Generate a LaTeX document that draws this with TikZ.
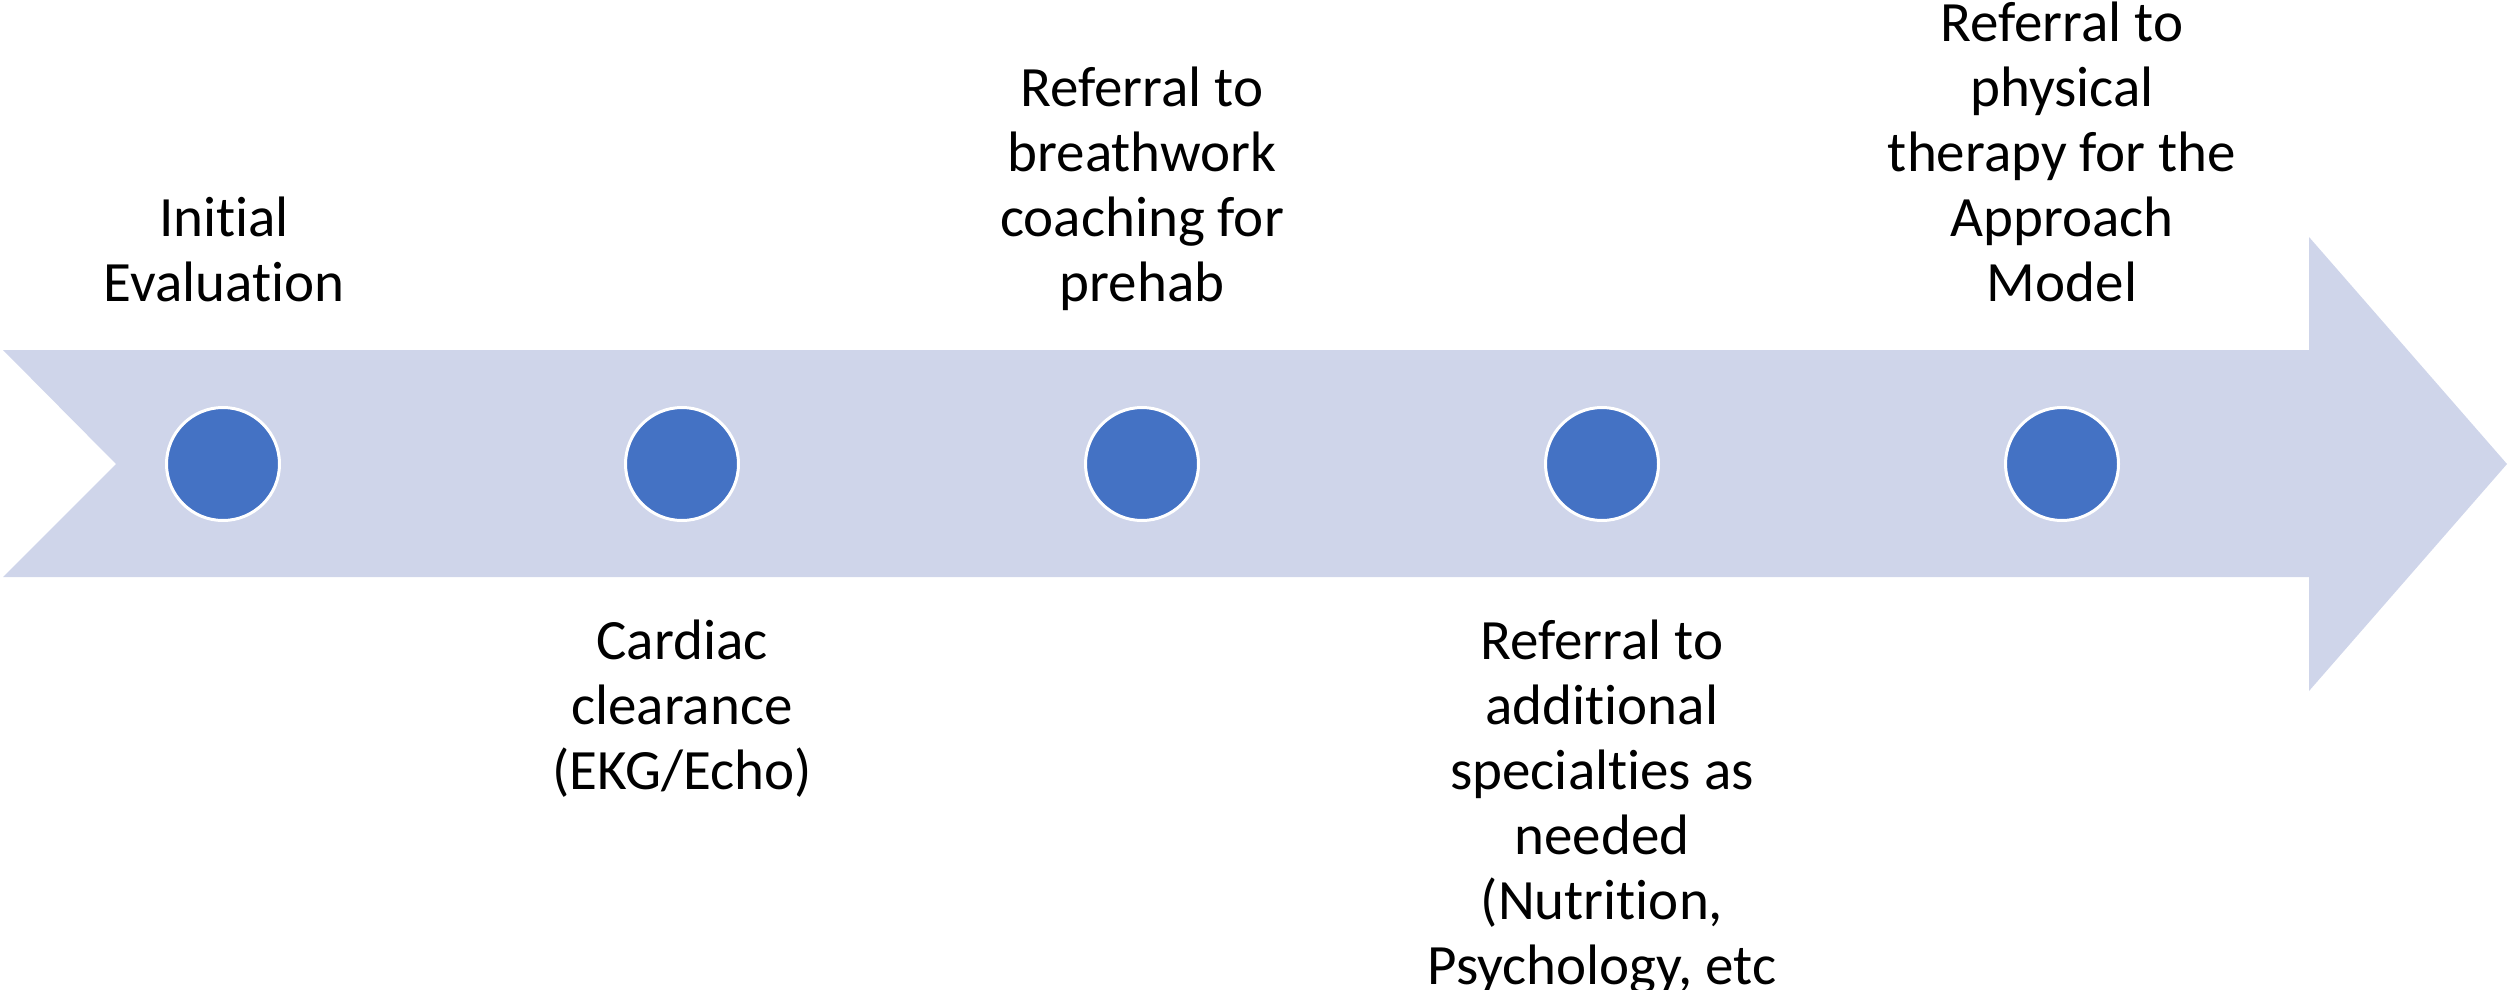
\documentclass[tikz,border=0pt]{standalone}
\usepackage{fontspec}
\setmainfont{Carlito}[Ligatures=NoCommon]
\definecolor{bandfill}{HTML}{CFD5EA}
\definecolor{dotfill}{HTML}{4472C4}
\begin{document}
\begin{tikzpicture}[x=1pt,y=-1pt,
  dot/.style={circle,fill=dotfill,draw=white,line width=3pt,minimum size=113pt,inner sep=0pt},
  lbl/.style={align=center,anchor=base,inner sep=0pt,font=\fontsize{57}{65}\selectfont}]
\useasboundingbox (0,0) rectangle (2509,990);
\fill[bandfill] (3,350) -- (2309,350) -- (2309,237) -- (2507,464) -- (2309,691) -- (2309,577) -- (3,577) -- (116,464) -- cycle;
\node[dot] (d1) at (223,464) {};
\node[dot] (d2) at (682,464) {};
\node[dot] (d3) at (1142,464) {};
\node[dot] (d4) at (1602,464) {};
\node[dot] (d5) at (2062,464) {};
\node[lbl] (t1) at (224,301) {Initial\\Evaluation};
\node[lbl] (t3) at (1142,301) {Referral to\\breathwork\\coaching for\\prehab};
\node[lbl] (t5) at (2062,301) {Referral to\\physical\\therapy for the\\Approach\\Model};
\node[lbl] (t2) at (682,789) {Cardiac\\clearance\\(EKG/Echo)};
\node[lbl] (t4) at (1602,984) {Referral to\\additional\\specialties as\\needed\\(Nutrition,\\Psychology, etc};
\end{tikzpicture}
\end{document}
